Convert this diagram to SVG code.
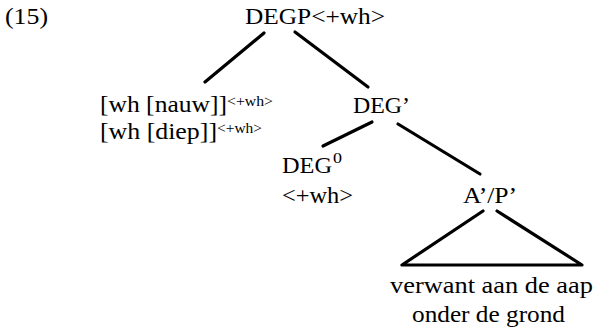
<svg xmlns="http://www.w3.org/2000/svg" width="595" height="328" viewBox="0 0 595 328">
<style>
text{font-family:"Liberation Serif","Times New Roman",serif;fill:#000;font-size:23px}
.sup{font-size:14px}
.edge{stroke:#000;stroke-width:3.2;fill:none;stroke-linecap:round;stroke-linejoin:round}
</style>
<rect width="595" height="328" fill="#fff"/>
<g id="connectors">
<line class="edge" x1="264" y1="33" x2="205" y2="82"/>
<line class="edge" x1="295" y1="32" x2="368" y2="87"/>
<line class="edge" x1="372" y1="122" x2="323" y2="146"/>
<line class="edge" x1="398" y1="124" x2="480" y2="174"/>
<polyline class="edge" points="483,211 402,265 582,265 497,211"/>
</g>
<g id="label15"><text x="5" y="24" textLength="43" lengthAdjust="spacingAndGlyphs">(15)</text></g>
<g id="DEGP"><text x="245" y="24" textLength="140" lengthAdjust="spacingAndGlyphs">DEGP&lt;+wh&gt;</text></g>
<g id="spec">
<text x="100" y="112" textLength="127" lengthAdjust="spacingAndGlyphs">[wh [nauw]]</text>
<text class="sup" x="227" y="106" textLength="46" lengthAdjust="spacingAndGlyphs">&lt;+wh&gt;</text>
<text x="100" y="139" textLength="117" lengthAdjust="spacingAndGlyphs">[wh [diep]]</text>
<text class="sup" x="217" y="133" textLength="45" lengthAdjust="spacingAndGlyphs">&lt;+wh&gt;</text>
</g>
<g id="DEGbar"><text x="353" y="113" textLength="57" lengthAdjust="spacingAndGlyphs">DEG’</text></g>
<g id="DEG0">
<text x="282" y="173" textLength="50" lengthAdjust="spacingAndGlyphs">DEG</text>
<text class="sup" x="333" y="163" textLength="9" lengthAdjust="spacingAndGlyphs">0</text>
<text x="282" y="203" textLength="71" lengthAdjust="spacingAndGlyphs">&lt;+wh&gt;</text>
</g>
<g id="APbar"><text x="463" y="203" textLength="54" lengthAdjust="spacingAndGlyphs">A’/P’</text></g>
<g id="leaf">
<text x="390" y="293" textLength="203" lengthAdjust="spacingAndGlyphs">verwant aan de aap</text>
<text x="412" y="322" textLength="153" lengthAdjust="spacingAndGlyphs">onder de grond</text>
</g>
</svg>
